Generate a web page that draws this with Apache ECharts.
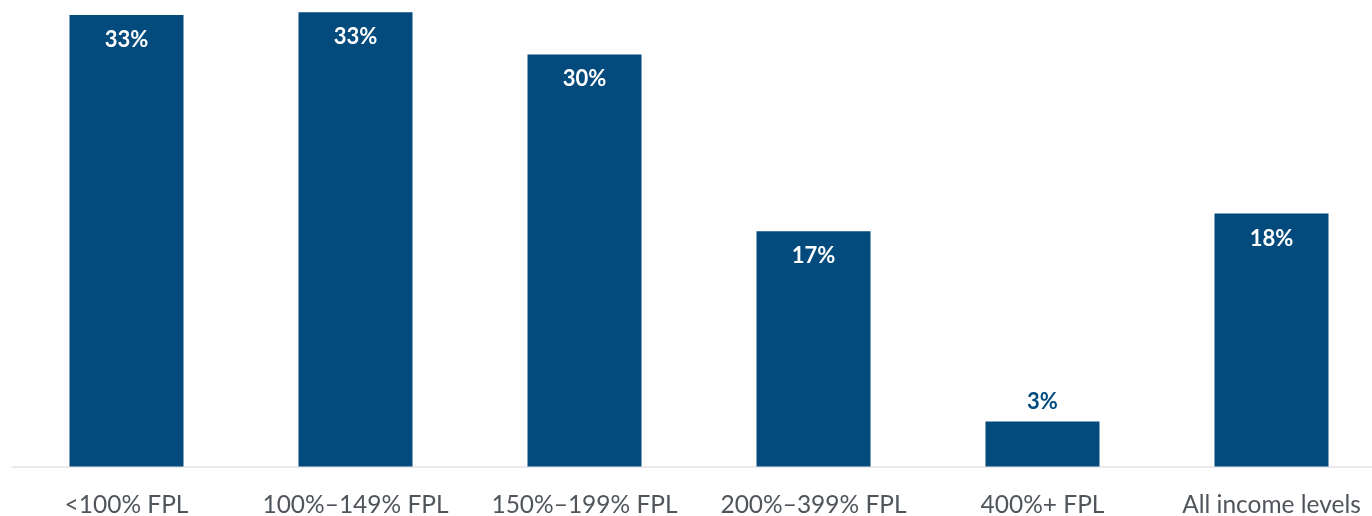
<!DOCTYPE html>
<html>
<head>
<meta charset="utf-8">
<script src="https://cdn.jsdelivr.net/npm/echarts@6/dist/echarts.min.js"></script>
<style>html,body{margin:0;padding:0;background:#fff}#c{width:1372px;height:516px}</style>
</head>
<body>
<div id="c"></div>
<script>
const categories = ["<100% FPL", "100%\u2013149% FPL", "150%\u2013199% FPL", "200%\u2013399% FPL", "400%+ FPL", "All income levels"];
const values = [33.2, 33.4, 30.3, 17.3, 3.3, 18.6];
const valueLabels = ["33%", "33%", "30%", "17%", "3%", "18%"];
const labelOutside = [false, false, false, false, true, false];

const BAR = '#044b7d';
const data = values.map((v, i) => ({
  value: v,
  label: labelOutside[i]
    ? { position: 'top', distance: 9, color: BAR }
    : { position: 'insideTop', distance: 14, color: '#ffffff' }
}));

const chart = echarts.init(document.getElementById('c'), null, { renderer: 'canvas' });
chart.setOption({
  animation: false,
  grid: { left: 12, width: 1374, top: 0, bottom: 49.5, containLabel: false, outerBoundsMode: 'none' },
  xAxis: {
    type: 'category',
    data: categories,
    axisLine: { show: true, lineStyle: { color: '#e3e4e6', width: 1.5 } },
    axisTick: { show: false },
    axisLabel: { color: '#50555b', fontFamily: 'Lato', fontSize: 24.5, margin: 26, interval: 0 }
  },
  yAxis: {
    type: 'value', min: 0, max: 34.3,
    show: false, splitLine: { show: false }
  },
  series: [{
    type: 'bar',
    data: data,
    barWidth: 114,
    itemStyle: { color: BAR },
    label: {
      show: true,
      fontFamily: 'Lato', fontWeight: 'bold', fontSize: 22,
      formatter: p => valueLabels[p.dataIndex]
    }
  }]
});
</script>
</body>
</html>
